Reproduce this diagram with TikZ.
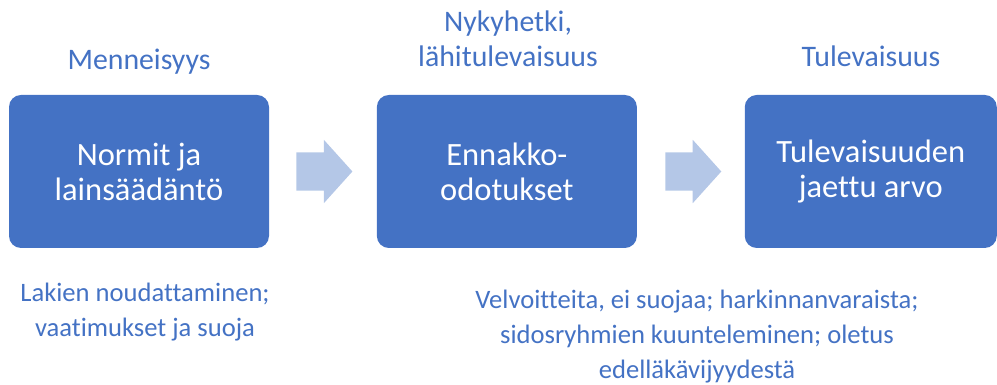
\documentclass[tikz,border=0pt]{standalone}
\usepackage{fontspec}
\setmainfont{Carlito}[Ligatures=NoCommon]
\usepackage{tikz}
\usetikzlibrary{positioning,shapes.arrows}
\usepackage{xcolor}
\definecolor{boxblue}{HTML}{4472C4}
\definecolor{arrowblue}{HTML}{B4C7E7}

\begin{document}
\begin{tikzpicture}[
      x=1pt, y=1pt,
      box/.style={fill=boxblue, rounded corners=12pt, minimum width=260pt,
        minimum height=153pt, text=white, align=center,
        font=\fontsize{32.5}{35}\selectfont},
      blockarrow/.style={single arrow, fill=arrowblue, inner sep=0pt,
        inner ysep=19pt, minimum height=56pt, single arrow head extend=12.5pt,
        single arrow tip angle=96},
      lbl/.style={text=boxblue, align=center, font=\fontsize{26.6}{35}\selectfont},
      head/.style={lbl, font=\fontsize{29.8}{35}\selectfont}
    ]
      \useasboundingbox (0,0) rectangle (997,385);

      % Laatikot
      \node[box] (menn) at (139,213.5) {Normit ja\\lainsäädäntö};
      \node[blockarrow, right=27pt of menn] (a1) {};
      \node[box, right=24pt of a1] (nyky) {Ennakko-\\odotukset};
      \node[blockarrow, right=28pt of nyky] (a2) {};
      \node[box, minimum width=252pt, right=23pt of a2] (tulev) {Tulevaisuuden\\jaettu arvo};

      % Otsikot
      \node[head] (t1) at (139,323) {Menneisyys};
      \node[head] (t2) at (508,346) {Nykyhetki,\\lähitulevaisuus};
      \node[head] (t3) at (871,329) {Tulevaisuus};

      % Selitteet
      \node[lbl] (s1) at (145,73) {Lakien noudattaminen;\\vaatimukset ja suoja};
      \node[lbl] (s2) at (697,48) {Velvoitteita, ei suojaa; harkinnanvaraista;\\sidosryhmien kuunteleminen; oletus\\edelläkävijyydestä};
    \end{tikzpicture}
\end{document}
